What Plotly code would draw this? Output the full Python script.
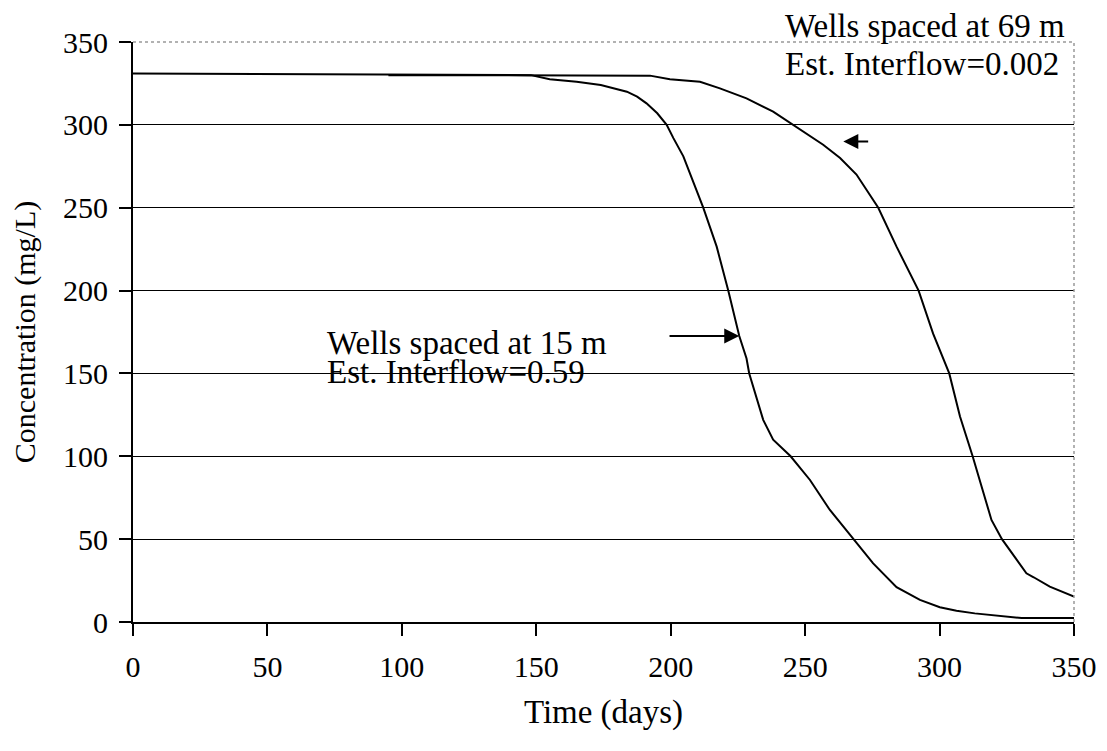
import plotly.graph_objects as go

# Wells spaced at 15 m (Est. Interflow = 0.59)
days_15 = [0, 148, 155, 165, 174, 178.5, 183.7, 187.5, 191, 195, 198.5, 201, 204.7, 212.1,
           217.1, 221.4, 225.5, 228.2, 229.2, 234.4, 238.1, 244.6, 251.8, 259.2, 267.9,
           275.3, 284, 292.7, 300.1, 306.3, 313.1, 321.8, 330.5, 350]
conc_15 = [331, 330, 327.5, 326, 324, 322, 320, 317, 313, 307, 300, 292, 281, 250,
           226.5, 200, 172.6, 159, 150, 122, 110, 100, 85.7, 67.6, 50,
           35.4, 21, 13.3, 8.9, 6.8, 5.2, 3.8, 2.4, 2.4]

# Wells spaced at 69 m (Est. Interflow = 0.002)
days_69 = [95, 192.3, 199.7, 210.9, 218.3, 228.2, 238.1, 245.6, 256.7, 263, 269.1, 277.2,
           284, 292.2, 297.6, 303.6, 307.6, 312.3, 317.4, 319.3, 323.2, 328.6, 332.3, 335,
           341, 350]
conc_69 = [330, 329.7, 327.5, 326, 322, 316, 308, 300, 288, 280, 270, 250,
           226.5, 200, 174, 150, 124, 100, 71.6, 61.6, 50, 37.4, 29.4, 27,
           21.3, 15.3]

x_ticks = [0, 50, 100, 150, 200, 250, 300, 350]
y_ticks = [0, 50, 100, 150, 200, 250, 300, 350]

FONT = "Liberation Serif, Times New Roman, serif"

fig = go.Figure()
fig.add_trace(go.Scatter(x=days_15, y=conc_15, mode="lines",
                         line=dict(color="black", width=2), name="15 m", showlegend=False))
fig.add_trace(go.Scatter(x=days_69, y=conc_69, mode="lines",
                         line=dict(color="black", width=2), name="69 m", showlegend=False))

fig.update_layout(
    width=1099, height=743,
    margin=dict(l=125, r=33, t=34, b=129),
    paper_bgcolor="white", plot_bgcolor="white",
    font=dict(family=FONT, size=30, color="black"),
    xaxis=dict(range=[0, 350], tickvals=x_ticks, showgrid=False, zeroline=False,
               showline=True, linecolor="black", linewidth=2, automargin=False,
               ticks="outside", ticklen=12, tickwidth=2, tickcolor="black",
               ticklabelstandoff=5,
               title=dict(text="Time (days)", standoff=18, font=dict(size=33)),
               tickfont=dict(size=30)),
    yaxis=dict(range=[0, 350], tickvals=y_ticks, showgrid=True, gridcolor="black",
               gridwidth=1.3, zeroline=False, automargin=False,
               showline=True, linecolor="black", linewidth=2,
               ticks="outside", ticklen=12, tickwidth=2, tickcolor="black",
               ticklabelstandoff=5,
               title=dict(text="Concentration (mg/L)", standoff=20, font=dict(size=30)),
               tickfont=dict(size=30)),
    shapes=[
        dict(type="line", xref="paper", yref="paper", x0=0, x1=1, y0=1, y1=1,
             line=dict(color="#999999", width=1.5, dash="dot")),
        dict(type="line", xref="paper", yref="paper", x0=1, x1=1, y0=0, y1=1,
             line=dict(color="#999999", width=1.5, dash="dot")),
    ],
    annotations=[
        dict(x=225.5, y=172.6, ax=199, ay=172.6, xref="x", yref="y", axref="x", ayref="y",
             text="", showarrow=True, arrowhead=2, arrowsize=1.5, arrowwidth=2, arrowcolor="black"),
        dict(x=264.2, y=289.9, ax=274, ay=289.9, xref="x", yref="y", axref="x", ayref="y",
             text="", showarrow=True, arrowhead=2, arrowsize=1.5, arrowwidth=2, arrowcolor="black"),
        dict(x=71.4, y=168.4, xref="x", yref="y", text="Wells spaced at 15 m", showarrow=False,
             xanchor="left", yanchor="middle", font=dict(size=33)),
        dict(x=71.4, y=150.9, xref="x", yref="y", text="Est. Interflow=0.59", showarrow=False,
             xanchor="left", yanchor="middle", font=dict(size=33)),
        dict(x=241.7, y=(622 - 26) / 580, xref="x", yref="paper", text="Wells spaced at 69 m",
             showarrow=False, xanchor="left", yanchor="middle", font=dict(size=33)),
        dict(x=241.7, y=(622 - 64) / 580, xref="x", yref="paper", text="Est. Interflow=0.002",
             showarrow=False, xanchor="left", yanchor="middle", font=dict(size=33)),
    ],
)

fig.write_html("out.html")
